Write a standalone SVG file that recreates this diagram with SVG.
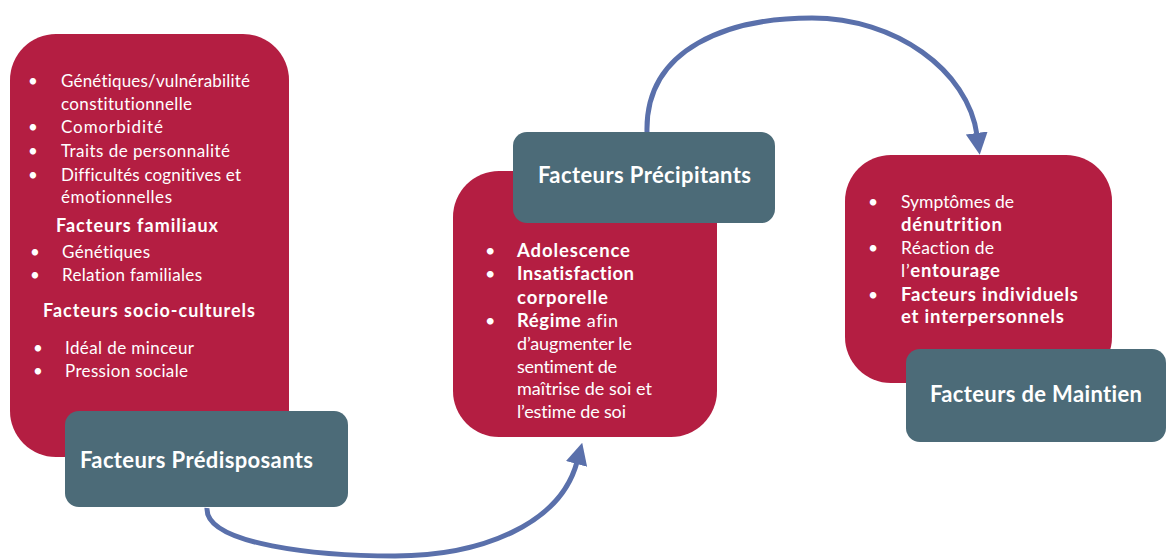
<svg xmlns="http://www.w3.org/2000/svg" width="1166" height="559" viewBox="0 0 1166 559">
<style>
.red{fill:#B41E42}
.teal{fill:#4C6B78}
.t{font-family:Lato,"Open Sans","Liberation Sans",sans-serif;fill:#FFFFFF;font-variant-ligatures:none}
.s1{font-size:17px}
.s2{font-size:18px}
.s3{font-size:17.5px}
.title{font-size:22px;font-weight:bold}
.b{font-weight:bold}
.s1 .b{font-size:18px}
.s2 .b{font-size:18.5px}
.s3 .b{font-size:18.5px}
.conn{fill:none;stroke:#5A70AB;stroke-width:5;stroke-linecap:butt}
</style>
<defs>
<marker id="ah" markerUnits="userSpaceOnUse" markerWidth="22" markerHeight="22" viewBox="0 0 22 22" refX="2" refY="11" orient="auto">
<path d="M0,0 L22,11 L0,22 Z" fill="#5A70AB"/>
</marker>
</defs>
<rect width="1166" height="559" fill="#FFFFFF"/>
<g id="connectors">
<path class="conn" d="M647,132 C645,47 730,18 812,18 C895,18 968,70 977,135" marker-end="url(#ah)"/>
<path class="conn" d="M207,508 C205,545 320,556 395,556 C480,556 560,525 577,462" marker-end="url(#ah)"/>
</g>
<g id="predisposants">
<rect class="red" x="10" y="34" width="279" height="423" rx="46"/>
<g class="t s1">
<text x="28" y="87">•</text><text x="61" y="87" textLength="189" lengthAdjust="spacing">Génétiques/vulnérabilité</text>
<text x="61" y="110" textLength="131" lengthAdjust="spacing">constitutionnelle</text>
<text x="28" y="133">•</text><text x="61" y="133" textLength="102" lengthAdjust="spacing">Comorbidité</text>
<text x="28" y="157">•</text><text x="61" y="157" textLength="169" lengthAdjust="spacing">Traits de personnalité</text>
<text x="28" y="181">•</text><text x="61" y="181" textLength="180" lengthAdjust="spacing">Difficultés cognitives et</text>
<text x="61" y="203" textLength="111" lengthAdjust="spacing">émotionnelles</text>
<text x="56" y="232" class="b" textLength="162" lengthAdjust="spacing">Facteurs familiaux</text>
<text x="30" y="258">•</text><text x="62" y="258" textLength="88" lengthAdjust="spacing">Génétiques</text>
<text x="30" y="281">•</text><text x="62" y="281" textLength="140" lengthAdjust="spacing">Relation familiales</text>
<text x="43" y="317" class="b" textLength="212" lengthAdjust="spacing">Facteurs socio-culturels</text>
<text x="33" y="354">•</text><text x="65" y="354" textLength="129" lengthAdjust="spacing">Idéal de minceur</text>
<text x="33" y="377">•</text><text x="65" y="377" textLength="123" lengthAdjust="spacing">Pression sociale</text>
</g>
<rect class="teal" x="65" y="411" width="283" height="96" rx="14"/>
<text class="t title" x="80" y="468" textLength="233" lengthAdjust="spacing">Facteurs Prédisposants</text>
</g>
<g id="precipitants">
<rect class="red" x="453" y="171" width="264" height="266" rx="46"/>
<g class="t s2">
<text x="485" y="257">•</text><text x="517" y="257" class="b" textLength="113" lengthAdjust="spacing">Adolescence</text>
<text x="485" y="280">•</text><text x="517" y="280" class="b" textLength="117" lengthAdjust="spacing">Insatisfaction</text>
<text x="517" y="304" class="b" textLength="91" lengthAdjust="spacing">corporelle</text>
<text x="485" y="327">•</text><text x="517" y="327" textLength="101" lengthAdjust="spacing"><tspan class="b">Régime</tspan> afin</text>
<text x="517" y="350" textLength="115" lengthAdjust="spacing">d’augmenter le</text>
<text x="517" y="373" textLength="100" lengthAdjust="spacing">sentiment de</text>
<text x="517" y="395" textLength="135" lengthAdjust="spacing">maîtrise de soi et</text>
<text x="517" y="418" textLength="109" lengthAdjust="spacing">l’estime de soi</text>
</g>
<rect class="teal" x="513" y="132" width="262" height="91" rx="14"/>
<text class="t title" x="538" y="183" textLength="213" lengthAdjust="spacing">Facteurs Précipitants</text>
</g>
<g id="maintien">
<rect class="red" x="845" y="155" width="267" height="228" rx="46"/>
<g class="t s3">
<text x="868" y="208">•</text><text x="901" y="208" textLength="113" lengthAdjust="spacing">Symptômes de</text>
<text x="901" y="231" class="b" textLength="101" lengthAdjust="spacing">dénutrition</text>
<text x="868" y="254">•</text><text x="901" y="254" textLength="93" lengthAdjust="spacing">Réaction de</text>
<text x="901" y="277" textLength="99" lengthAdjust="spacing">l’<tspan class="b">entourage</tspan></text>
<text x="868" y="301">•</text><text x="901" y="301" class="b" textLength="177" lengthAdjust="spacing">Facteurs individuels</text>
<text x="901" y="323" class="b" textLength="163" lengthAdjust="spacing">et interpersonnels</text>
</g>
<rect class="teal" x="906" y="349" width="260" height="93" rx="14"/>
<text class="t title" x="930" y="402" textLength="212" lengthAdjust="spacing">Facteurs de Maintien</text>
</g>
</svg>
